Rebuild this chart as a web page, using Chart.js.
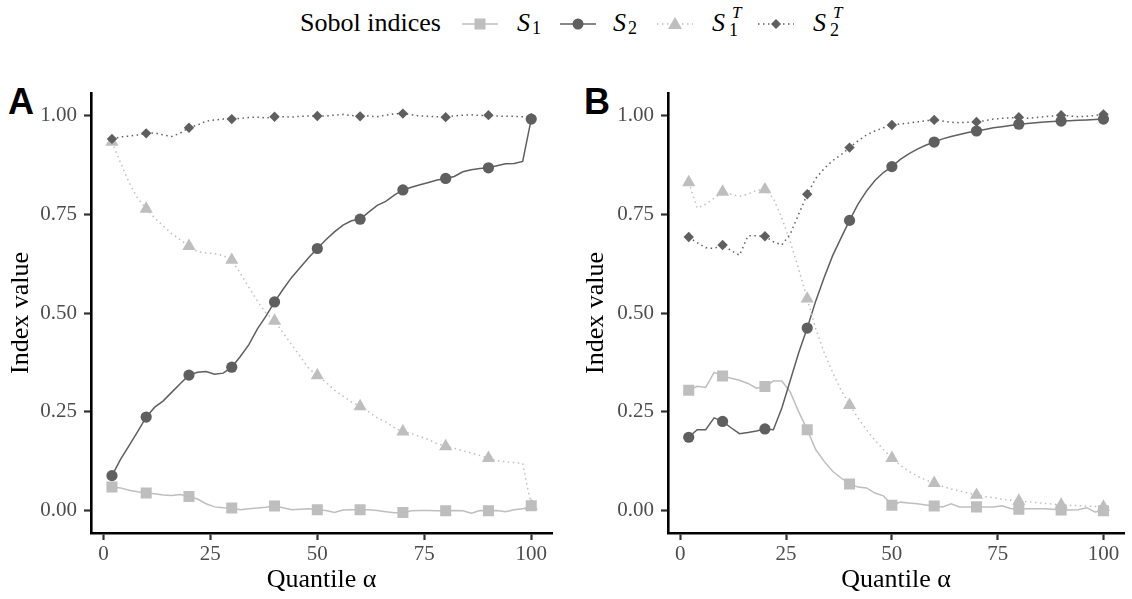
<!DOCTYPE html>
<html>
<head>
<meta charset="utf-8">
<script src="https://cdn.jsdelivr.net/npm/chart.js@4/dist/chart.umd.min.js"></script>
<style>
  body { margin: 0; background: #fff; }
  #wrap { position: relative; width: 1132px; height: 599px; overflow: hidden; font-family: "Liberation Serif", serif; color: #000; }
  .panel { position: absolute; top: 60px; height: 539px; }
  .tag { position: absolute; top: 81px; font: bold 36px "Liberation Sans", Arial, sans-serif; }
  .lg { position: absolute; white-space: nowrap; line-height: 1.15; }
  .big { font-size: 26px; top: 8px; }
  .s { font-size: 26px; top: 8px; font-style: italic; }
  .sub { font-size: 18px; top: 18px; }
  .sup { font-size: 17px; top: 3px; font-style: italic; }
  svg.lg { top: 14px; }
</style>
</head>
<body>
<div id="wrap">
  <!-- legend -->
  <span class="lg big" style="left:300px">Sobol indices</span>

  <svg class="lg" style="left:462px" width="36" height="20"><line x1="0" y1="10" x2="36" y2="10" stroke="#bebebe" stroke-width="1.5"/><rect x="12.5" y="4.5" width="11" height="11" fill="#bebebe"/></svg>
  <span class="lg s" style="left:517px">S</span><span class="lg sub" style="left:532px">1</span>

  <svg class="lg" style="left:560px" width="36" height="20"><line x1="0" y1="10" x2="36" y2="10" stroke="#5f5f5f" stroke-width="1.5"/><circle cx="18" cy="10" r="5.5" fill="#5f5f5f"/></svg>
  <span class="lg s" style="left:613px">S</span><span class="lg sub" style="left:628px">2</span>

  <svg class="lg" style="left:657px" width="36" height="20"><line x1="0" y1="10" x2="36" y2="10" stroke="#bebebe" stroke-width="1.5" stroke-dasharray="1.5 3.5"/><polygon points="18,3 25,15 11,15" fill="#bebebe"/></svg>
  <span class="lg s" style="left:712px">S</span><span class="lg sup" style="left:732px">T</span><span class="lg sub" style="left:729px; top:20px">1</span>

  <svg class="lg" style="left:758px" width="36" height="20"><line x1="0" y1="10" x2="36" y2="10" stroke="#5f5f5f" stroke-width="1.5" stroke-dasharray="1.5 3.5"/><polygon points="18,5 23,10 18,15 13,10" fill="#5f5f5f"/></svg>
  <span class="lg s" style="left:813px">S</span><span class="lg sup" style="left:833px">T</span><span class="lg sub" style="left:830px; top:20px">2</span>

  <div class="tag" style="left:8px">A</div>
  <div class="tag" style="left:584px">B</div>
  <div class="panel" style="left:0; width:560px"><canvas id="chartA" width="560" height="539"></canvas></div>
  <div class="panel" style="left:575px; width:557px"><canvas id="chartB" width="557" height="539"></canvas></div>
</div>
<script>
// quantile levels (x values) and the ones that carry a marker
const alpha = [2,4,6,8,10,12,14,16,18,20,22,24,26,28,30,32,34,36,38,40,42,44,46,48,50,
               52,54,56,58,60,62,64,66,68,70,72,74,76,78,80,82,84,86,88,90,92,94,96,98,100];
const markerAlpha = [2,10,20,30,40,50,60,70,80,90,100];
const xTicks = [0, 25, 50, 75, 100];
const yTicks = [0, 0.25, 0.5, 0.75, 1];

// panel A
const s1A = [0.060,0.058,0.052,0.048,0.045,0.043,0.040,0.039,0.041,0.036,0.030,0.018,0.010,0.008,0.007,
             0.003,0.005,0.007,0.009,0.012,0.008,0.003,0.004,0.005,0.003,0.001,-0.004,0.002,0.003,0.003,
             0.003,0.001,-0.002,-0.005,-0.004,0.000,0.001,0.001,0.000,0.000,0.001,0.000,-0.006,0.001,0.000,
             0.001,-0.002,0.003,0.005,0.013];
const s2A = [0.089,0.130,0.165,0.200,0.237,0.262,0.278,0.300,0.322,0.343,0.350,0.352,0.345,0.348,0.363,
             0.390,0.420,0.460,0.492,0.528,0.560,0.590,0.615,0.640,0.663,0.685,0.705,0.722,0.733,0.737,
             0.755,0.772,0.782,0.798,0.811,0.818,0.824,0.830,0.836,0.840,0.845,0.857,0.862,0.865,0.867,
             0.872,0.877,0.878,0.883,0.990];
const s1TA = [0.932,0.880,0.830,0.790,0.763,0.740,0.720,0.700,0.685,0.669,0.655,0.652,0.650,0.645,0.634,
              0.600,0.565,0.530,0.500,0.480,0.450,0.420,0.390,0.360,0.342,0.325,0.305,0.290,0.275,0.264,
              0.250,0.235,0.225,0.210,0.200,0.195,0.188,0.180,0.170,0.163,0.158,0.152,0.146,0.140,0.133,
              0.127,0.124,0.122,0.120,0.012];
const s2TA = [0.940,0.945,0.947,0.950,0.954,0.955,0.950,0.946,0.955,0.968,0.975,0.985,0.988,0.990,0.990,
              0.992,0.994,0.995,0.993,0.996,0.996,0.995,0.997,0.998,0.998,0.998,1.000,1.002,0.999,0.997,
              0.998,0.996,1.000,1.003,1.004,1.001,0.998,0.997,0.996,0.995,0.998,1.000,1.001,0.999,1.000,
              0.998,0.997,0.997,0.996,0.992];

// panel B
const s1B = [0.305,0.315,0.312,0.350,0.341,0.335,0.330,0.322,0.310,0.314,0.328,0.328,0.300,0.250,0.205,
             0.155,0.125,0.100,0.083,0.068,0.060,0.058,0.045,0.038,0.014,0.022,0.020,0.018,0.015,0.012,
             0.010,0.018,0.010,0.010,0.010,0.010,0.010,0.013,0.006,0.004,0.005,0.005,0.005,0.004,0.002,
             0.002,0.003,0.008,-0.003,0.000];
const s2B = [0.186,0.205,0.205,0.235,0.226,0.210,0.195,0.198,0.202,0.207,0.205,0.260,0.330,0.400,0.462,
             0.530,0.590,0.645,0.690,0.734,0.775,0.808,0.835,0.855,0.870,0.888,0.902,0.914,0.924,0.932,
             0.940,0.946,0.951,0.956,0.960,0.964,0.968,0.971,0.974,0.977,0.979,0.981,0.983,0.984,0.985,
             0.986,0.987,0.988,0.989,0.990];
const s1TB = [0.830,0.765,0.775,0.790,0.806,0.800,0.795,0.800,0.810,0.812,0.790,0.740,0.680,0.610,0.536,
              0.460,0.400,0.350,0.305,0.267,0.235,0.205,0.178,0.155,0.133,0.115,0.100,0.088,0.078,0.070,
              0.062,0.055,0.050,0.045,0.040,0.036,0.033,0.030,0.027,0.025,0.023,0.021,0.019,0.017,0.015,
              0.014,0.013,0.012,0.011,0.010];
const s2TB = [0.692,0.678,0.665,0.663,0.672,0.658,0.646,0.695,0.695,0.694,0.680,0.672,0.700,0.750,0.800,
              0.840,0.865,0.885,0.900,0.918,0.935,0.950,0.960,0.968,0.975,0.978,0.980,0.983,0.986,0.988,
              0.985,0.982,0.981,0.982,0.983,0.986,0.990,0.992,0.993,0.995,0.992,0.994,0.996,0.998,1.000,
              0.998,0.996,0.997,0.999,1.002];

const dark = '#5f5f5f';
const light = '#bebebe';
const serif = "'Liberation Serif'";

Chart.defaults.font.family = serif;

function marker(r) {
    return ctx => markerAlpha.includes(alpha[ctx.dataIndex]) ? r : 0;
}

function series(values, color, style, r, dotted, order) {
    return {
        data: values.map((v, i) => ({ x: alpha[i], y: v })),
        borderColor: color,
        backgroundColor: color,
        borderWidth: 1.5,
        borderDash: dotted ? [1.5, 3.5] : [],
        pointStyle: style,
        pointRadius: marker(r),
        pointBorderWidth: 0,
        pointHoverRadius: 0,
        tension: 0,
        order: order
    };
}

function makeChart(id, sets, yWidth) {
    new Chart(document.getElementById(id), {
        type: 'line',
        data: {
            datasets: [
                series(sets[0], light, 'rect', 7.8, false, 4),
                series(sets[1], dark, 'circle', 5.6, false, 3),
                series(sets[2], light, 'triangle', 7.6, true, 2),
                series(sets[3], dark, 'rectRot', 5.2, true, 1)
            ]
        },
        options: {
            responsive: false,
            animation: false,
            events: [],
            layout: { padding: { top: 33, right: 2, left: 0, bottom: 0 } },
            plugins: { legend: { display: false }, tooltip: { enabled: false } },
            scales: {
                x: {
                    type: 'linear',
                    min: -2.9,
                    max: 104.9,
                    afterBuildTicks: s => { s.ticks = xTicks.map(v => ({ value: v })); },
                    afterFit: s => { s.height = 66; },
                    grid: { drawOnChartArea: false, drawTicks: true, tickLength: 7, tickWidth: 2.2, color: '#333' },
                    border: { display: true, color: '#000', width: 2.6 },
                    ticks: { color: '#4d4d4d', font: { family: serif, size: 21 }, padding: 2, maxRotation: 0 },
                    title: { display: true, text: 'Quantile α', color: '#000',
                             font: { family: serif, size: 26 }, padding: { top: 0, bottom: 3 } }
                },
                y: {
                    min: -0.056,
                    max: 1.056,
                    afterBuildTicks: s => { s.ticks = yTicks.map(v => ({ value: v })); },
                    afterFit: s => { s.width = yWidth; },
                    grid: { drawOnChartArea: false, drawTicks: true, tickLength: 7, tickWidth: 2.2, color: '#333' },
                    border: { display: true, color: '#000', width: 2.6 },
                    ticks: { color: '#4d4d4d', font: { family: serif, size: 21 }, padding: 7,
                             callback: v => v.toFixed(2) },
                    title: { display: true, text: 'Index value', color: '#000',
                             font: { family: serif, size: 26 }, padding: { top: 6, bottom: 0 } }
                }
            }
        }
    });
}

makeChart('chartA', [s1A, s2A, s1TA, s2TA], 91);
makeChart('chartB', [s1B, s2B, s1TB, s2TB], 93);
</script>
</body>
</html>
